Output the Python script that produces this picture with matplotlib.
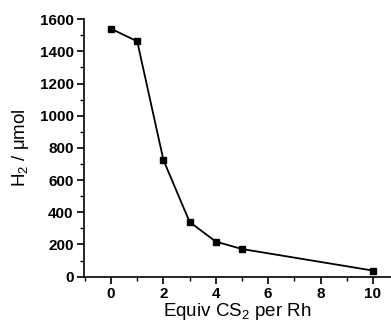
import matplotlib
matplotlib.use('Agg')
import matplotlib.pyplot as plt
from matplotlib.ticker import MultipleLocator

# CS2 equivalents added per Rh and the H2 evolved
equiv_cs2 = [0, 1, 2, 3, 4, 5, 10]
h2_umol = [1540, 1462, 725, 340, 218, 172, 38]

plt.rcParams['font.family'] = ['Liberation Sans', 'DejaVu Sans']
plt.rcParams['mathtext.fontset'] = 'custom'
plt.rcParams['mathtext.rm'] = 'Liberation Sans'
plt.rcParams['mathtext.default'] = 'regular'

fig = plt.figure(figsize=(3.91, 3.24), dpi=100)
ax = fig.add_axes([0.215, 0.146, 0.785, 0.795])

ax.plot(equiv_cs2, h2_umol, color='black', lw=1.3,
        marker='s', markersize=5, markerfacecolor='black', markeredgecolor='black')

ax.set_xlim(-1.03, 10.69)
ax.set_ylim(0, 1600)
ax.xaxis.set_major_locator(MultipleLocator(2))
ax.xaxis.set_minor_locator(MultipleLocator(1))
ax.yaxis.set_major_locator(MultipleLocator(200))
ax.yaxis.set_minor_locator(MultipleLocator(100))

ax.spines['top'].set_visible(False)
ax.spines['right'].set_visible(False)
for side in ('left', 'bottom'):
    ax.spines[side].set_linewidth(1.2)

ax.tick_params(which='major', direction='out', length=5, width=1.2,
               labelsize=11, pad=2.5)
ax.tick_params(which='minor', direction='out', length=3, width=1.0)
for lbl in ax.get_xticklabels() + ax.get_yticklabels():
    lbl.set_fontweight('bold')

ax.set_xlabel('Equiv CS$_2$ per Rh', fontsize=13.5, labelpad=0)
ax.set_ylabel('H$_2$ / \u03bcmol', fontsize=13.5, labelpad=6)

fig.savefig('out.png', dpi=100)
